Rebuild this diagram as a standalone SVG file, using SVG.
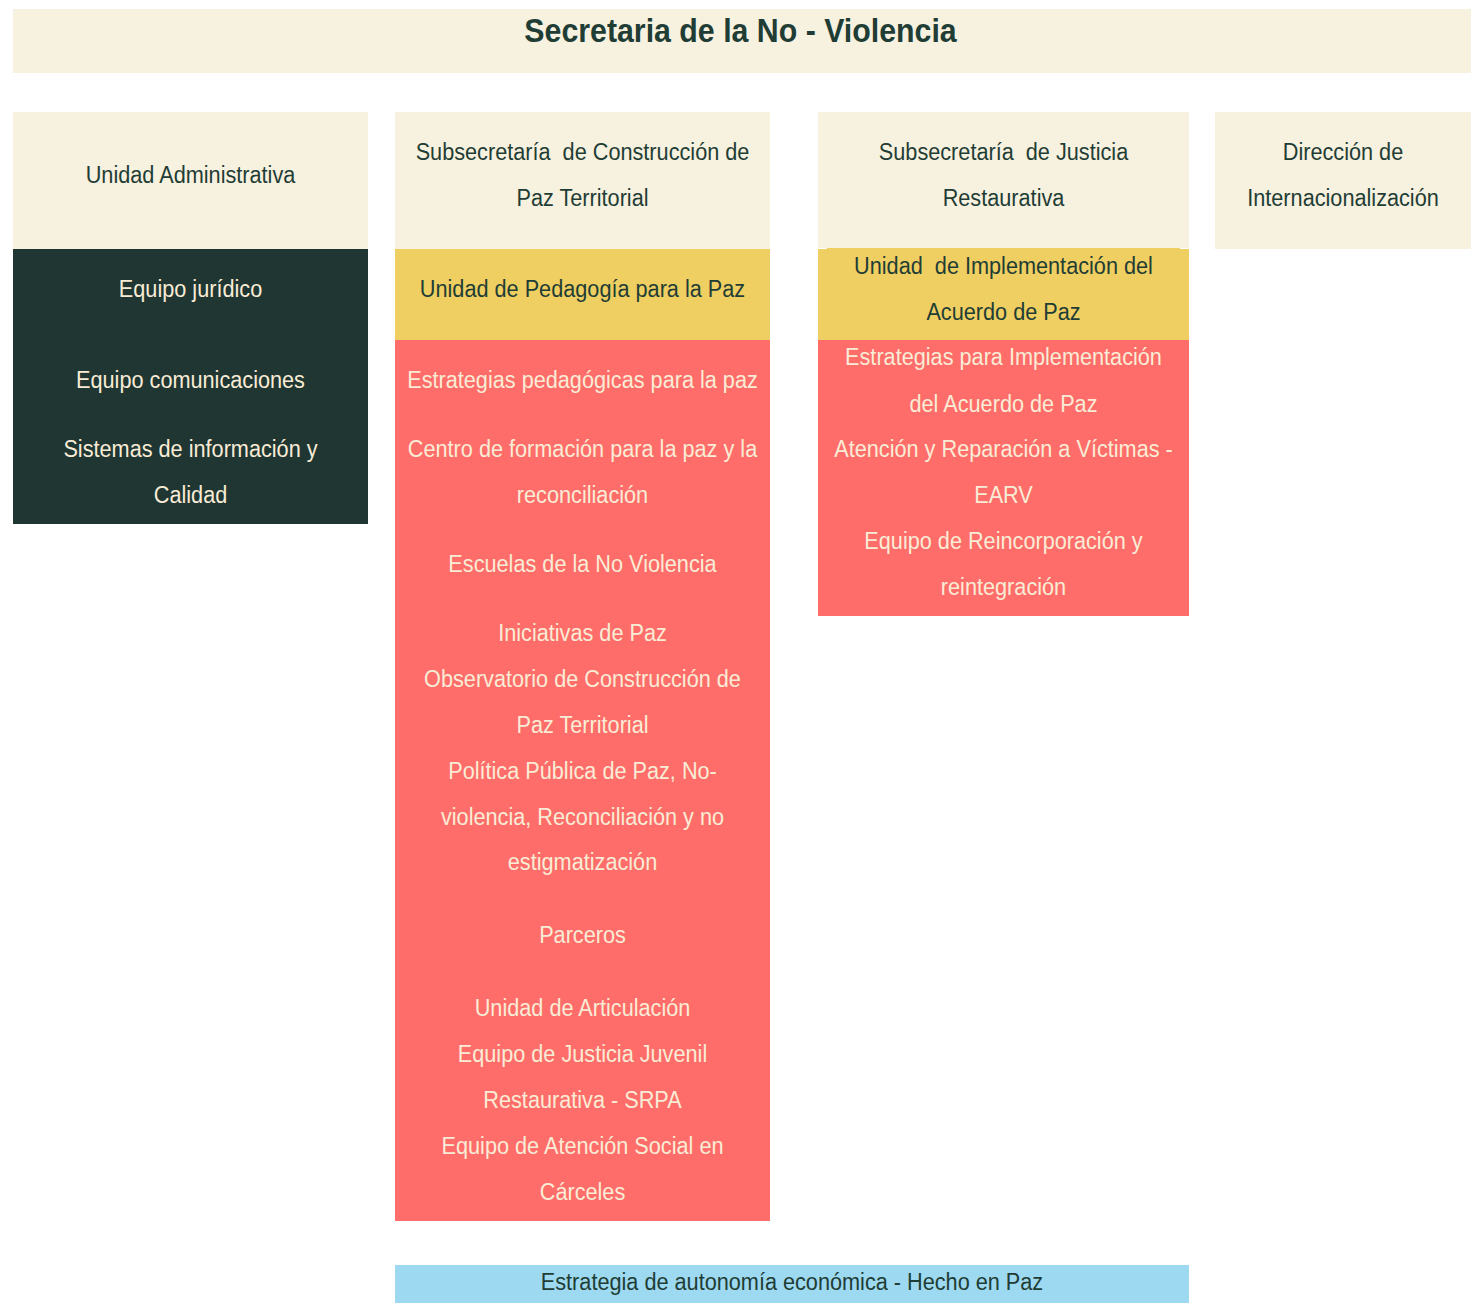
<svg xmlns="http://www.w3.org/2000/svg" width="1476" height="1303" viewBox="0 0 1476 1303">
<style>
text{font-family:"Liberation Sans",Arial,sans-serif;font-size:24.5px;text-anchor:middle;}
.dk{fill:#1F3D35;}
.lt{fill:#F9ECD6;}
.beige{fill:#F7F1DF;}
.navy{fill:#1F3633;}
.yel{fill:#EFCF61;}
.red{fill:#FF6D6A;}
.blue{fill:#9DD9F0;}
.title{font-size:33.5px;font-weight:bold;}
</style>
<rect width="1476" height="1303" fill="#FFFFFF"/>
<g id="title">
<rect class="beige" x="13" y="9" width="1458" height="64"/>
<text class="dk title" transform="translate(740.5 42.3) scale(0.905 1)">Secretaria de la No - Violencia</text>
</g>
<g id="connectors"></g>
<g id="unidad-administrativa">
<rect class="beige" x="13" y="112" width="355" height="137"/>
<text class="dk" transform="translate(190.5 183) scale(0.885 1)">Unidad Administrativa</text>
</g>
<g id="admin-equipos">
<rect class="navy" x="13" y="249" width="355" height="275"/>
<text class="lt" transform="translate(190.5 297) scale(0.885 1)">Equipo jurídico</text>
<text class="lt" transform="translate(190.5 388) scale(0.885 1)">Equipo comunicaciones</text>
<text class="lt" transform="translate(190.5 457) scale(0.885 1)">Sistemas de información y</text>
<text class="lt" transform="translate(190.5 503) scale(0.885 1)">Calidad</text>
</g>
<g id="subsecretaria-construccion">
<rect class="beige" x="395" y="112" width="375" height="137"/>
<text class="dk" transform="translate(582.5 160) scale(0.885 1)" xml:space="preserve">Subsecretaría  de Construcción de</text>
<text class="dk" transform="translate(582.5 206) scale(0.885 1)">Paz Territorial</text>
</g>
<g id="unidad-pedagogia">
<rect class="yel" x="395" y="249" width="375" height="91"/>
<text class="dk" transform="translate(582.5 297) scale(0.885 1)">Unidad de Pedagogía para la Paz</text>
</g>
<g id="pedagogia-equipos">
<rect class="red" x="395" y="340" width="375" height="881"/>
<text class="lt" transform="translate(582.5 388) scale(0.885 1)">Estrategias pedagógicas para la paz</text>
<text class="lt" transform="translate(582.5 457) scale(0.885 1)">Centro de formación para la paz y la</text>
<text class="lt" transform="translate(582.5 503) scale(0.885 1)">reconciliación</text>
<text class="lt" transform="translate(582.5 572) scale(0.885 1)">Escuelas de la No Violencia</text>
<text class="lt" transform="translate(582.5 641) scale(0.885 1)">Iniciativas de Paz</text>
<text class="lt" transform="translate(582.5 687) scale(0.885 1)">Observatorio de Construcción de</text>
<text class="lt" transform="translate(582.5 733) scale(0.885 1)">Paz Territorial</text>
<text class="lt" transform="translate(582.5 779) scale(0.885 1)">Política Pública de Paz, No-</text>
<text class="lt" transform="translate(582.5 825) scale(0.885 1)">violencia, Reconciliación y no</text>
<text class="lt" transform="translate(582.5 870) scale(0.885 1)">estigmatización</text>
<text class="lt" transform="translate(582.5 943) scale(0.885 1)">Parceros</text>
<text class="lt" transform="translate(582.5 1016) scale(0.885 1)">Unidad de Articulación</text>
<text class="lt" transform="translate(582.5 1062) scale(0.885 1)">Equipo de Justicia Juvenil</text>
<text class="lt" transform="translate(582.5 1108) scale(0.885 1)">Restaurativa - SRPA</text>
<text class="lt" transform="translate(582.5 1154) scale(0.885 1)">Equipo de Atención Social en</text>
<text class="lt" transform="translate(582.5 1200) scale(0.885 1)">Cárceles</text>
</g>
<g id="subsecretaria-justicia">
<rect class="beige" x="818" y="112" width="371" height="136"/>
<text class="dk" transform="translate(1003.5 160) scale(0.885 1)" xml:space="preserve">Subsecretaría  de Justicia</text>
<text class="dk" transform="translate(1003.5 206) scale(0.885 1)">Restaurativa</text>
</g>
<g id="unidad-implementacion">
<rect class="yel" x="827" y="248" width="353" height="1"/>
<rect class="yel" x="818" y="249" width="371" height="91"/>
<text class="dk" transform="translate(1003.5 274) scale(0.885 1)" xml:space="preserve">Unidad  de Implementación del</text>
<text class="dk" transform="translate(1003.5 320) scale(0.885 1)">Acuerdo de Paz</text>
</g>
<g id="implementacion-equipos">
<rect class="red" x="818" y="340" width="371" height="276"/>
<text class="lt" transform="translate(1003.5 365) scale(0.885 1)">Estrategias para Implementación</text>
<text class="lt" transform="translate(1003.5 412) scale(0.885 1)">del Acuerdo de Paz</text>
<text class="lt" transform="translate(1003.5 457) scale(0.885 1)">Atención y Reparación a Víctimas -</text>
<text class="lt" transform="translate(1003.5 503) scale(0.885 1)">EARV</text>
<text class="lt" transform="translate(1003.5 549) scale(0.885 1)">Equipo de Reincorporación y</text>
<text class="lt" transform="translate(1003.5 595) scale(0.885 1)">reintegración</text>
</g>
<g id="direccion-internacionalizacion">
<rect class="beige" x="1215" y="112" width="256" height="137"/>
<text class="dk" transform="translate(1343 160) scale(0.885 1)">Dirección de</text>
<text class="dk" transform="translate(1343 206) scale(0.885 1)">Internacionalización</text>
</g>
<g id="hecho-en-paz">
<rect class="blue" x="395" y="1265" width="794" height="38"/>
<text class="dk" transform="translate(792 1290) scale(0.885 1)">Estrategia de autonomía económica - Hecho en Paz</text>
</g>
</svg>
